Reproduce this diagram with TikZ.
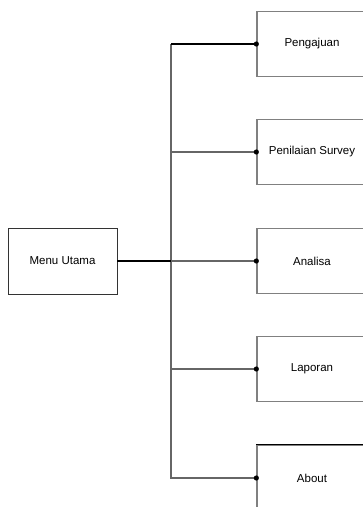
\documentclass[tikz,border=0pt]{standalone}
\usepackage{fontspec}
\setmainfont{Liberation Sans}

\begin{document}
\begin{tikzpicture}[x=1pt,y=-1pt,
	kotak/.style={draw=gray, line width=1.3pt, minimum width=110pt, minimum height=65pt,
		inner sep=0pt, font=\fontsize{11.5}{13}\selectfont},
	garis/.style={color=gray!80!black, line width=1.3pt}]
	\useasboundingbox (0,0) rectangle (363,507);

	\node[kotak, draw=black!80, line width=0.9pt, minimum width=109pt, minimum height=66pt]
		(menu) at (62.5,261) {Menu Utama};

	\node[kotak] (pengajuan) at (312,44) {Pengajuan};
	\node[kotak] (penilaian) at (312,152) {Penilaian Survey};
	\node[kotak] (analisa) at (312,261) {Analisa};
	\node[kotak] (laporan) at (312,369) {Laporan};
	\node[kotak] (about) at (312,478) {About};
	\draw[line width=1.2pt] (about.north west) -- (about.north east);

	\coordinate (cabang) at (171,261);

	% batang dan cabang
	\draw[garis] (cabang) |- (penilaian.west);
	\draw[garis] (cabang) |- (about.west);
	\draw[garis] (cabang) |- (laporan.west);
	\draw[garis] (cabang) -- (analisa.west);
	\draw[garis] (cabang) -- (pengajuan.west -| cabang);
	\draw[line width=1.2pt] (pengajuan.west -| cabang) -- (pengajuan.west);
	\draw[line width=1.6pt] (menu.east) -- (cabang);

	\def\titik#1{
		\fill #1 circle[radius=2.6];
	}
	\titik{(pengajuan.west)}
	\titik{(penilaian.west)}
	\titik{(analisa.west)}
	\titik{(laporan.west)}
	\titik{(about.west)}
\end{tikzpicture}
\end{document}
